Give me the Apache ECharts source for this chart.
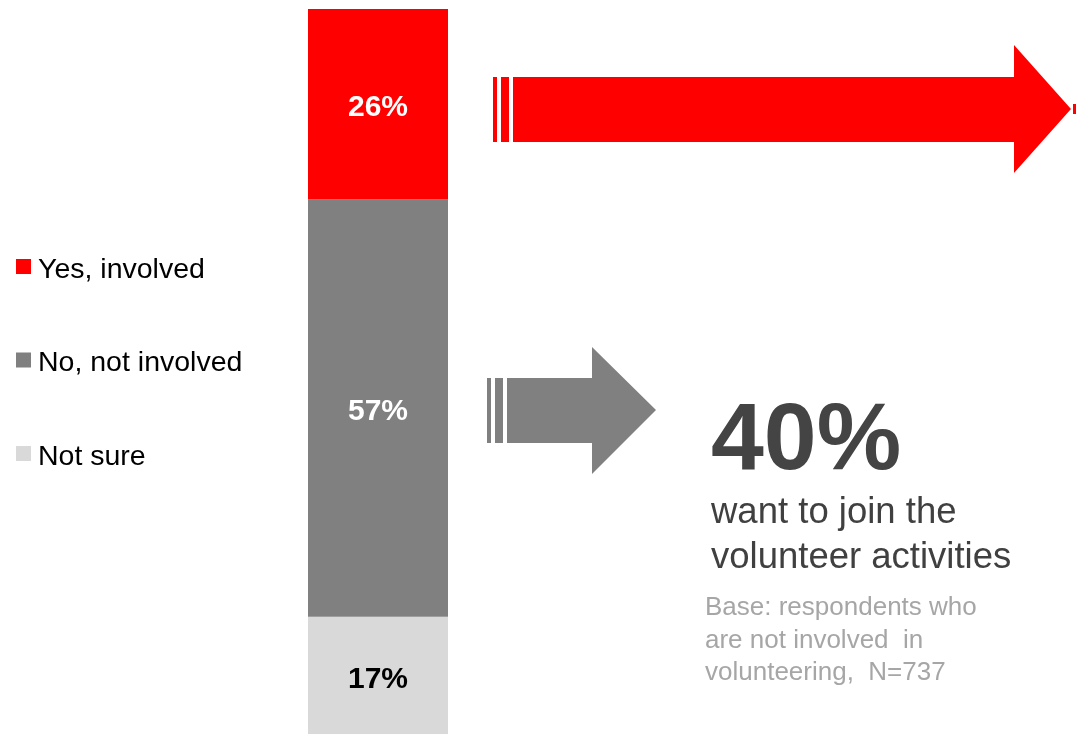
<!DOCTYPE html>
<html>
<head>
<meta charset="utf-8">
<script src="https://cdn.jsdelivr.net/npm/echarts@6/dist/echarts.min.js"></script>
<style>
html,body{margin:0;padding:0;background:#fff;}
#chart{width:1076px;height:734px;}
</style>
</head>
<body>
<div id="chart"></div>
<script>
// ---- data ----
const categories = ['Involvement'];
const seriesNames = ['Yes, involved', 'No, not involved', 'Not sure'];
const yesValues = [26];
const noValues = [57];
const notSureValues = [17];
const highlightValue = '40%';
const highlightText = ['want to join the', 'volunteer activities'];
const baseNote = ['Base: respondents who', 'are not involved  in', 'volunteering,  N=737'];

const FONT = '"Liberation Sans", Arial, sans-serif';
const RED = '#ff0000', GREY = '#808080', LIGHT = '#d9d9d9';

const chart = echarts.init(document.getElementById('chart'), null, {renderer: 'canvas'});

function labelCfg(color, dy) {
  return {
    show: true, position: 'inside', formatter: '{c}%', offset: [0, dy],
    color: color, fontFamily: FONT, fontWeight: 'bold', fontSize: 30
  };
}

const graphics = [];
// red arrow (decoration)
graphics.push({type: 'rect', shape: {x: 493, y: 77, width: 4, height: 65}, style: {fill: RED}});
graphics.push({type: 'rect', shape: {x: 501, y: 77, width: 8, height: 65}, style: {fill: RED}});
graphics.push({type: 'polygon', shape: {points: [[513,77],[1014,77],[1014,45],[1071,109],[1014,173],[1014,142],[513,142]]}, style: {fill: RED}});
graphics.push({type: 'rect', shape: {x: 1073, y: 104, width: 3, height: 10}, style: {fill: RED}});
// grey arrow (decoration)
graphics.push({type: 'rect', shape: {x: 487, y: 378, width: 4, height: 65}, style: {fill: GREY}});
graphics.push({type: 'rect', shape: {x: 495, y: 378, width: 8, height: 65}, style: {fill: GREY}});
graphics.push({type: 'polygon', shape: {points: [[507,378],[592,378],[592,347],[656,410],[592,474],[592,443],[507,443]]}, style: {fill: GREY}});
// texts
graphics.push({type: 'text', style: {text: highlightValue, x: 711, y: 443, font: 'bold 95px ' + FONT, fill: '#444444', textVerticalAlign: 'middle'}});
highlightText.forEach((t, i) => {
  graphics.push({type: 'text', style: {text: t, x: 711, y: 513 + i * 45, font: '36.5px ' + FONT, fill: '#404040', textVerticalAlign: 'middle'}});
});
baseNote.forEach((t, i) => {
  graphics.push({type: 'text', style: {text: t, x: 705, y: 608 + i * 32.5, font: '26px ' + FONT, fill: '#a6a6a6', textVerticalAlign: 'middle'}});
});

// square marker placed at the top of a 15x22 symbol box, so the legend text sits slightly lower
const legendIcon = 'path://M0,0L15,0L15,15L0,15Z M0,22L15,22L15,22.01L0,22.01Z';

chart.setOption({
  animation: false,
  backgroundColor: '#ffffff',
  legend: {
    data: seriesNames,
    orient: 'vertical',
    left: 16, top: 255,
    padding: 0,
    icon: legendIcon,
    itemWidth: 15, itemHeight: 22,
    itemGap: 63.5,
    textStyle: {fontFamily: FONT, fontSize: 28.5, color: '#000', lineHeight: 30, padding: [0, 0, 0, 2]}
  },
  grid: {left: 308, width: 140, top: 9, bottom: 0},
  xAxis: {type: 'category', data: categories, show: false},
  yAxis: {type: 'value', min: 1, max: 100, show: false},
  series: [
    {name: 'Not sure', type: 'bar', stack: 's', data: notSureValues, barWidth: '100%', itemStyle: {color: LIGHT}, label: labelCfg('#000', 4)},
    {name: 'No, not involved', type: 'bar', stack: 's', data: noValues, barWidth: '100%', itemStyle: {color: GREY}, label: labelCfg('#fff', 4)},
    {name: 'Yes, involved', type: 'bar', stack: 's', data: yesValues, barWidth: '100%', itemStyle: {color: RED}, label: labelCfg('#fff', 4)}
  ],
  graphic: graphics
});
</script>
</body>
</html>
